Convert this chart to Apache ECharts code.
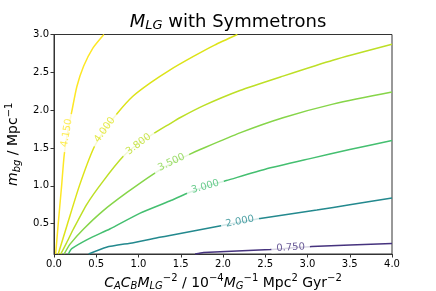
<!DOCTYPE html>
<html><head><meta charset="utf-8">
<script src="https://cdn.jsdelivr.net/npm/echarts@6/dist/echarts.min.js"></script>
<style>html,body{margin:0;padding:0;background:#fff}#c{width:436px;height:291px}</style>
</head><body><div id="c"></div>
<script>
const xTicks = [0, 0.5, 1.0, 1.5, 2.0, 2.5, 3.0, 3.5, 4.0];
const yTicks = [0.5, 1.0, 1.5, 2.0, 2.5, 3.0];
const levels = ['4.150', '4.000', '3.800', '3.500', '3.000', '2.000', '0.750'];
const colors = ['#fde725', '#dde318', '#bddf26', '#86d549', '#44bf70', '#23898e', '#46337e'];
const c415 = [[0.02,0.1],[0.05,0.5],[0.09,1.0],[0.12,1.4],[0.16,1.7],[0.21,1.98],[0.27,2.31],[0.35,2.58],[0.46,2.82],[0.59,3.0]];
const c400 = [[0.05,0.1],[0.16,0.5],[0.30,1.0],[0.47,1.50],[0.60,1.74],[0.75,1.96],[0.93,2.18],[1.14,2.36],[1.37,2.53],[1.65,2.71],[1.9,2.86],[2.17,3.0]];
const c380 = [[0.08,0.1],[0.15,0.25],[0.23,0.43],[0.39,0.76],[0.58,1.06],[0.82,1.39],[1.0,1.56],[1.22,1.72],[1.37,1.82],[1.49,1.90],[1.77,2.06],[2.2,2.26],[2.71,2.45],[3.3,2.66],[4.0,2.87]];
const c350 = [[0.12,0.1],[0.19,0.23],[0.35,0.43],[0.58,0.67],[0.86,0.91],[1.18,1.16],[1.39,1.30],[1.61,1.42],[1.73,1.48],[2.2,1.7],[2.71,1.9],[3.3,2.08],[4.0,2.24]];
const c300 = [[0.17,0.1],[0.21,0.17],[0.41,0.30],[0.66,0.43],[1.02,0.64],[1.37,0.80],[1.57,0.90],[1.79,0.99],[2.04,1.07],[2.5,1.22],[3.03,1.36],[3.5,1.48],[4.0,1.60]];
const c200 = [[0.41,0.1],[0.62,0.19],[0.94,0.25],[1.25,0.32],[1.37,0.345],[1.96,0.47],[2.2,0.52],[2.44,0.57],[3.11,0.68],[3.5,0.75],[4.0,0.84]];
const c075 = [[1.67,0.1],[1.77,0.12],[2.56,0.16],[2.8,0.18],[3.05,0.2],[4.0,0.24]];
const contours = [c415, c400, c380, c350, c300, c200, c075];
const labelPos = [[0.15,1.70],[0.60,1.74],[1.0,1.55],[1.39,1.31],[1.79,0.99],[2.20,0.53],[2.80,0.185]];
const labelRot = [80, 54, 37, 26, 16, 11, 3];

const FF = 'DejaVu Sans';
const series = [];
contours.forEach((c, i) => {
  series.push({type:'line', data:c, showSymbol:false, smooth:0.2, silent:true,
    lineStyle:{color:colors[i], width:1.5}, z:2});
});
series.push({type:'scatter', symbolSize:0, silent:true, z:5,
  data: labelPos.map((p,i)=>({value:p, label:{show:true, position:'inside', formatter:levels[i], rotate:labelRot[i],
    color:colors[i], fontSize:10, fontFamily:FF, backgroundColor:'#fff', padding:[0,5]}}))});

const rich = {
  i:{fontFamily:FF, fontStyle:'italic', fontSize:14, color:'#000', lineHeight:18},
  s:{fontFamily:FF, fontStyle:'italic', fontSize:10, color:'#000', verticalAlign:'bottom', lineHeight:18},
  p:{fontFamily:FF, fontSize:10, color:'#000', verticalAlign:'top', lineHeight:18},
  n:{fontFamily:FF, fontSize:14, color:'#000', lineHeight:18}};

const chart = echarts.init(document.getElementById('c'), null, {renderer:'canvas'});
chart.setOption({
  animation:false,
  title:{text:'{i|M}{s|LG}{n| with Symmetrons}', left:223, top:8, textAlign:'center',
    textStyle:{fontWeight:'normal', rich:{
      i:{fontFamily:FF, fontStyle:'italic', fontWeight:'normal', fontSize:18, color:'#000'},
      s:{fontFamily:FF, fontStyle:'italic', fontWeight:'normal', fontSize:13, color:'#000', verticalAlign:'bottom', padding:[6,0,0,0]},
      n:{fontFamily:FF, fontWeight:'normal', fontSize:18, color:'#000'}}}},
  grid:{left:54, right:44, top:34.5, bottom:37, show:true, borderColor:'#333', borderWidth:1,
    backgroundColor:'transparent', containLabel:false, outerBoundsMode:'none'},
  xAxis:{type:'value', min:0, max:4, interval:0.5,
    name:'{i|C}{s|A}{i|C}{s|B}{i|M}{s|LG}{p|−2}{n| / 10}{p|−4}{i|M}{s|G}{p|−1}{n| Mpc}{p|2}{n| Gyr}{p|−2}',
    nameLocation:'middle', nameGap:19, nameTextStyle:{rich:rich},
    axisLine:{onZero:false, lineStyle:{color:'#333'}},
    axisTick:{show:true, length:3.5, lineStyle:{color:'#333'}, customValues:xTicks},
    axisLabel:{fontFamily:FF, fontSize:10, color:'#000', margin:5, customValues:xTicks, formatter:v=>v.toFixed(1)},
    splitLine:{show:false}},
  yAxis:{type:'value', min:0.1, max:3.0,
    name:'{i|m}{s|bg}{n| / Mpc}{p|−1}', nameLocation:'middle', nameGap:26, nameRotate:90,
    nameTextStyle:{rich:rich},
    axisLine:{show:true, onZero:false, lineStyle:{color:'#333'}},
    axisTick:{show:true, length:3.5, lineStyle:{color:'#333'}, customValues:yTicks},
    axisLabel:{fontFamily:FF, fontSize:10, color:'#000', margin:5, customValues:yTicks, formatter:v=>v.toFixed(1)},
    splitLine:{show:false}},
  series:series
});
</script></body></html>
